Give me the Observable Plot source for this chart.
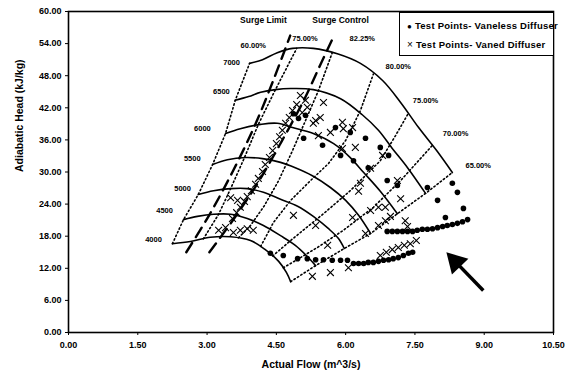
<!DOCTYPE html>
<html><head><meta charset="utf-8">
<script src="https://cdn.jsdelivr.net/npm/d3@7"></script>
<script src="https://cdn.jsdelivr.net/npm/@observablehq/plot@0.6"></script>
<style>
body{margin:0;background:#fff;}
#wrap{position:relative;width:575px;height:375px;font-family:"Liberation Sans",Arial,sans-serif;}
#legend{position:absolute;left:399px;top:12px;width:153px;height:42px;border:1px solid #000;background:#fff;font-weight:bold;font-size:9.5px;letter-spacing:0.25px;color:#000;}
#legend .row{position:absolute;left:7px;white-space:nowrap;}
</style></head>
<body><div id="wrap"></div>
<script>
// ---- axis ticks ----
const xTicks = [0, 1.5, 3, 4.5, 6, 7.5, 9, 10.5];
const yTicks = [0, 6, 12, 18, 24, 30, 36, 42, 48, 54, 60];

// ---- speed lines (Actual Flow m^3/s, Adiabatic Head kJ/kg) ----
const speedNames = ["4000", "4500", "5000", "5500", "6000", "6500", "7000"];
const speed4000 = [[2.25,16.6],[2.64,17.0],[3.07,17.8],[3.51,17.9],[3.94,17.2],[4.26,15.5],[4.55,13.3],[4.72,11.2],[4.81,9.5]];
const speed4500 = [[2.49,21.1],[2.79,21.7],[3.14,22.1],[3.51,22.1],[3.87,21.3],[4.22,20.0],[4.59,18.1],[4.91,16.3],[5.15,14.4],[5.35,12.5]];
const speed5000 = [[2.81,25.8],[3.14,26.5],[3.51,26.9],[3.87,26.9],[4.22,26.2],[4.59,24.9],[4.96,23.6],[5.30,21.7],[5.63,19.4],[5.84,17.6],[5.97,15.7]];
const speed5500 = [[3.12,31.4],[3.44,32.3],[3.83,32.7],[4.20,32.5],[4.59,31.8],[4.91,30.8],[5.28,29.3],[5.67,27.1],[6.00,24.7],[6.28,21.9],[6.54,18.5]];
const speed6000 = [[3.40,37.2],[3.72,38.1],[4.16,38.9],[4.52,39.1],[4.85,38.3],[5.30,37.2],[5.74,35.3],[6.10,32.7],[6.39,29.9],[6.75,26.4],[7.12,22.2]];
const speed6500 = [[3.61,43.4],[3.90,44.1],[4.16,44.9],[4.48,45.4],[4.81,45.6],[5.30,45.4],[5.89,43.7],[6.36,40.7],[6.71,37.8],[7.01,34.4],[7.34,30.8],[7.73,26.0]];
const speed7000 = [[3.92,50.3],[4.20,51.0],[4.52,52.3],[4.85,53.1],[5.30,53.1],[5.82,52.1],[6.32,50.3],[6.80,47.1],[7.19,43.0],[7.58,38.3],[7.97,34.0],[8.31,29.9]];
const speedLabelQ = [1.84, 2.08, 2.47, 2.68, 2.90, 3.31, 3.53];
const speedLabelH = [17.4, 22.8, 26.9, 32.5, 38.1, 45.0, 50.5];

// ---- efficiency lines ----
const eff60   = [[2.25,16.6],[2.49,21.1],[2.81,25.8],[3.12,31.4],[3.40,37.2],[3.61,43.4],[3.92,50.3]];
const eff75L  = [[2.92,17.5],[3.25,22.1],[3.51,26.9],[3.81,32.7],[4.11,38.9],[4.48,45.4],[4.94,53.1]];
const eff8225 = [[3.68,17.7],[3.94,20.0],[4.24,23.7],[4.55,28.4],[4.85,34.0],[5.13,39.6],[5.41,45.2],[5.71,52.3]];
const eff80   = [[4.16,16.1],[4.44,20.6],[4.81,24.7],[5.24,28.4],[5.63,31.6],[6.00,35.9],[6.32,41.5],[6.60,48.3]];
const eff75R  = [[4.42,14.3],[4.81,17.2],[5.52,22.2],[6.10,26.5],[6.75,32.1],[7.08,36.8],[7.36,41.0]];
const eff70   = [[4.65,12.1],[4.81,12.9],[5.39,15.9],[5.95,19.1],[6.60,23.4],[7.19,28.4],[7.88,35.0]];
const eff65   = [[4.81,9.5],[5.35,12.5],[5.97,15.7],[6.54,18.5],[7.12,22.2],[7.73,26.0],[8.31,29.9]];
const effLabels = ["60.00%", "75.00%", "82.25%", "80.00%", "75.00%", "70.00%", "65.00%"];
const effLabelQ = [4.00, 5.12, 6.36, 7.14, 7.73, 8.38, 8.87];
const effLabelH = [53.6, 55.0, 55.0, 49.7, 43.4, 37.2, 31.2];

// ---- surge lines ----
const surgeLimit   = [[2.55,15.0],[3.05,22.0],[3.55,30.0],[4.05,39.0],[4.45,47.5],[4.80,55.5]];
const surgeControl = [[3.05,15.0],[3.60,21.5],[4.10,28.0],[4.60,35.5],[5.10,43.5],[5.45,50.0],[5.75,55.5]];
const surgeLabels = ["Surge Limit", "Surge Control"];
const surgeLabelQ = [4.22, 5.89];
const surgeLabelH = [58.4, 58.4];

// ---- test points ----
const vaneless = [
  [4.87,40.9],[4.98,40.0],[5.13,40.6],[5.09,36.3],[5.50,35.0],[5.78,38.3],[6.10,37.4],[6.43,36.3],[6.75,34.6],[6.93,33.1],
  [5.89,33.1],[6.17,32.1],[6.49,30.8],[6.90,28.4],[7.12,27.5],[7.77,27.1],[8.31,27.9],[8.42,26.2],[7.99,24.7],[8.55,23.2],[8.16,21.5],
  [4.37,14.8],[4.65,14.4],[4.96,13.8],[5.17,13.8],[5.35,13.6],[5.52,13.6],[5.71,13.5],[5.89,13.5],[6.04,13.5],
  [6.17,12.9],[6.28,12.9],[6.39,12.9],[6.49,13.1],[6.60,13.1],[6.71,13.3],[6.82,13.5],[6.93,13.6],[7.03,13.8],[7.14,14.0],[7.25,14.4],[7.36,14.8],[7.45,15.0],
  [6.90,18.9],[7.01,18.9],[7.12,18.9],[7.23,18.9],[7.34,18.9],[7.45,18.9],[7.55,19.1],[7.66,19.3],[7.77,19.3],[7.88,19.4],
  [7.99,19.6],[8.10,19.8],[8.20,20.0],[8.31,20.2],[8.42,20.4],[8.53,20.7],[8.64,21.1]
];
const vaned = [
  [5.13,43.4],[5.17,42.1],[5.06,41.1],[5.52,43.0],[5.35,39.6],[5.45,40.2],[5.30,39.1],[5.93,39.3],[5.95,38.1],[6.15,38.3],[5.67,37.4],[5.41,36.8],[6.21,34.6],[5.93,34.4],
  [5.02,44.3],[4.94,42.6],[4.85,41.5],[4.78,40.2],[4.70,39.1],[4.63,37.8],[4.57,36.6],[4.50,35.3],[4.42,34.0],[4.35,32.7],[4.26,31.4],[4.20,30.1],
  [4.11,28.8],[4.05,27.7],[3.96,26.5],[3.87,25.4],[3.81,24.5],[3.72,23.4],[3.64,22.4],[3.55,21.3],[3.66,24.7],[3.51,25.2],
  [3.25,19.1],[3.40,19.6],[3.57,18.7],[3.72,19.1],[3.87,19.4],[4.00,19.1],
  [4.87,21.9],[5.35,20.0],[6.15,21.5],[5.61,16.3],[6.43,18.5],[6.54,22.8],[6.71,23.4],[6.86,23.4],[6.97,21.7],[6.86,20.9],[6.71,20.0],
  [7.29,20.9],[7.34,19.8],[7.19,25.0],[7.12,28.4],[6.32,27.9],[6.28,26.4],[6.54,30.7],[6.80,33.1],
  [5.28,10.5],[5.67,11.2],[6.06,12.1],
  [6.75,14.4],[6.88,15.0],[7.01,15.5],[7.14,15.9],[7.27,16.3],[7.40,16.6],[7.53,17.2]
];

// ---- arrow annotation ----
const arrowTail = [8.98, 7.85];
const arrowHead = [8.38, 13.2];

// ---- build tables ----
const rows = (name, pts) => pts.map(([Q, H]) => ({name, Q, H}));
const speedSets = [speed4000, speed4500, speed5000, speed5500, speed6000, speed6500, speed7000];
const speedRows = speedSets.flatMap((s, i) => rows(speedNames[i], s));
const effSets = [eff60, eff75L, eff8225, eff80, eff75R, eff70, eff65];
const effRows = effSets.flatMap((s, i) => rows("e" + i, s));
const surgeRows = [...rows("limit", surgeLimit), ...rows("control", surgeControl)];
const speedLab = speedNames.map((t, i) => ({t, Q: speedLabelQ[i], H: speedLabelH[i]}));
const effLab = effLabels.map((t, i) => ({t, Q: effLabelQ[i], H: effLabelH[i]}));
const surgeLab = surgeLabels.map((t, i) => ({t, Q: surgeLabelQ[i], H: surgeLabelH[i]}));
const vlRows = rows("vaneless", vaneless);
const vdRows = rows("vaned", vaned);

const font = "Liberation Sans, Arial, sans-serif";
const chart = Plot.plot({
  width: 575, height: 375,
  marginLeft: 68, marginRight: 22, marginTop: 11, marginBottom: 43,
  style: {fontFamily: font, fontSize: "9px", fontWeight: "bold", background: "#fff", color: "#000"},
  x: {domain: [0, 10.5]},
  y: {domain: [0, 60]},
  marks: [
    Plot.axisX({ticks: xTicks, tickFormat: d => d.toFixed(2), tickSize: 3, tickPadding: 6, label: null}),
    Plot.axisY({ticks: yTicks, tickFormat: d => d.toFixed(2), tickSize: 3, tickPadding: 4, label: null}),
    Plot.frame({stroke: "#000", strokeWidth: 1.6}),
    Plot.line(effRows, {x: "Q", y: "H", z: "name", stroke: "#000", strokeWidth: 1.6, strokeDasharray: "1.4,2.6"}),
    Plot.line(surgeRows, {x: "Q", y: "H", z: "name", curve: "catmull-rom", stroke: "#000", strokeWidth: 2.4, strokeDasharray: "11,7"}),
    Plot.line(speedRows, {x: "Q", y: "H", z: "name", curve: "catmull-rom", stroke: "#000", strokeWidth: 1.6}),
    Plot.dot(vlRows, {x: "Q", y: "H", r: 2.8, fill: "#000", stroke: "none"}),
    Plot.dot(vdRows, {x: "Q", y: "H", symbol: "times", r: 3.2, stroke: "#000", strokeWidth: 1.1}),
    Plot.text(speedLab, {x: "Q", y: "H", text: "t", fontSize: 7.5, fontWeight: "bold", fill: "#000"}),
    Plot.text(effLab, {x: "Q", y: "H", text: "t", fontSize: 7.5, fontWeight: "bold", fill: "#000"}),
    Plot.text(surgeLab, {x: "Q", y: "H", text: "t", fontSize: 8.5, fontWeight: "bold", fill: "#000"}),
    Plot.link([0], {x1: () => arrowTail[0], y1: () => arrowTail[1], x2: () => arrowHead[0], y2: () => arrowHead[1], stroke: "#000", strokeWidth: 3.5}),
    Plot.dot([0], {x: () => arrowHead[0], y: () => arrowHead[1], symbol: "triangle", r: 8.5, rotate: -44, fill: "#000", stroke: "none"}),
    Plot.text(["Actual Flow (m^3/s)"], {frameAnchor: "bottom", dy: 35, fontSize: 10.5, fontWeight: "bold", fill: "#000"}),
    Plot.text(["Adiabatic Head (kJ/kg)"], {frameAnchor: "left", dx: -49, rotate: -90, fontSize: 10.5, fontWeight: "bold", fill: "#000"})
  ]
});
const wrap = document.getElementById("wrap");
wrap.appendChild(chart);
const legend = document.createElement("div");
legend.id = "legend";
legend.innerHTML =
  '<div class="row" style="top:7px"><span style="font-size:8px">&#9679;</span> Test Points- Vaneless Diffuser</div>' +
  '<div class="row" style="top:26px"><span style="font-size:10px;font-weight:normal">&#215;</span> Test Points- Vaned Diffuser</div>';
wrap.appendChild(legend);
</script>
</body></html>
